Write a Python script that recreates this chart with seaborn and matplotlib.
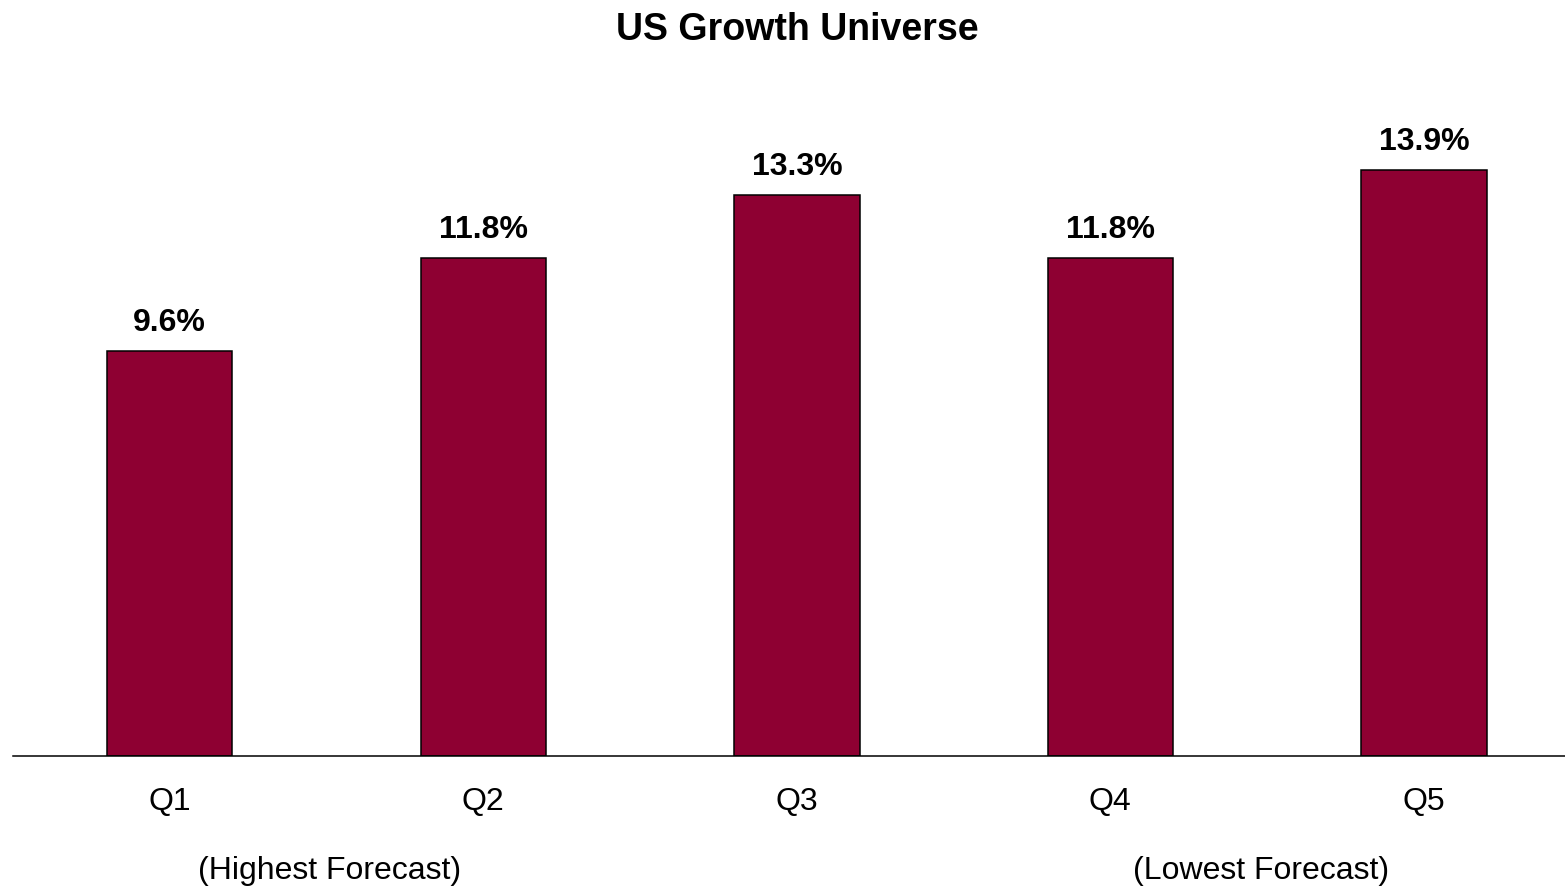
import matplotlib
matplotlib.use("Agg")
import matplotlib.pyplot as plt
import seaborn as sns
import pandas as pd

# Universe quintiles and their values (%)
quintiles = ["Q1", "Q2", "Q3", "Q4", "Q5"]
values = [9.6, 11.8, 13.3, 11.8, 13.9]
end_notes = ["(Highest Forecast)", "(Lowest Forecast)"]
end_note_pos = [0.51, 3.48]
title = "US Growth Universe"

sns.set_style("white")
plt.rcParams["font.family"] = ["Liberation Sans", "DejaVu Sans"]

df = pd.DataFrame({"quintile": quintiles, "value": values})

fig = plt.figure(figsize=(15.65, 8.86), dpi=100)
ax = fig.add_axes([13 / 1565, 130 / 886, 1552 / 1565, 656 / 886])

sns.barplot(data=df, x="quintile", y="value", color="#8E0032", saturation=1,
            width=0.40, edgecolor="black", linewidth=1.1, ax=ax)

ax.set_xlim(-0.5, 4.45)
ax.set_ylim(0, 15.55)

for i, v in enumerate(values):
    ax.annotate(f"{v:.1f}%", xy=(i, v), xytext=(0, 20), textcoords="offset points",
                ha="center", va="center", fontsize=23, fontweight="bold", color="black")

ax.set_xlabel("")
ax.set_ylabel("")
ax.set_yticks([])
ax.tick_params(axis="x", length=0, pad=22, labelsize=23, colors="black")
for side in ["top", "right", "left"]:
    ax.spines[side].set_visible(False)
ax.spines["bottom"].set_color("black")
ax.spines["bottom"].set_linewidth(1.1)

for x, note in zip(end_note_pos, end_notes):
    ax.text(x, -115 / 656, note, transform=ax.get_xaxis_transform(),
            ha="center", va="center", fontsize=23, color="black")

fig.text(797 / 1565, 1 - 30 / 886, title, ha="center", va="center",
         fontsize=27, fontweight="bold", color="black")

fig.savefig("out.png", dpi=100)
